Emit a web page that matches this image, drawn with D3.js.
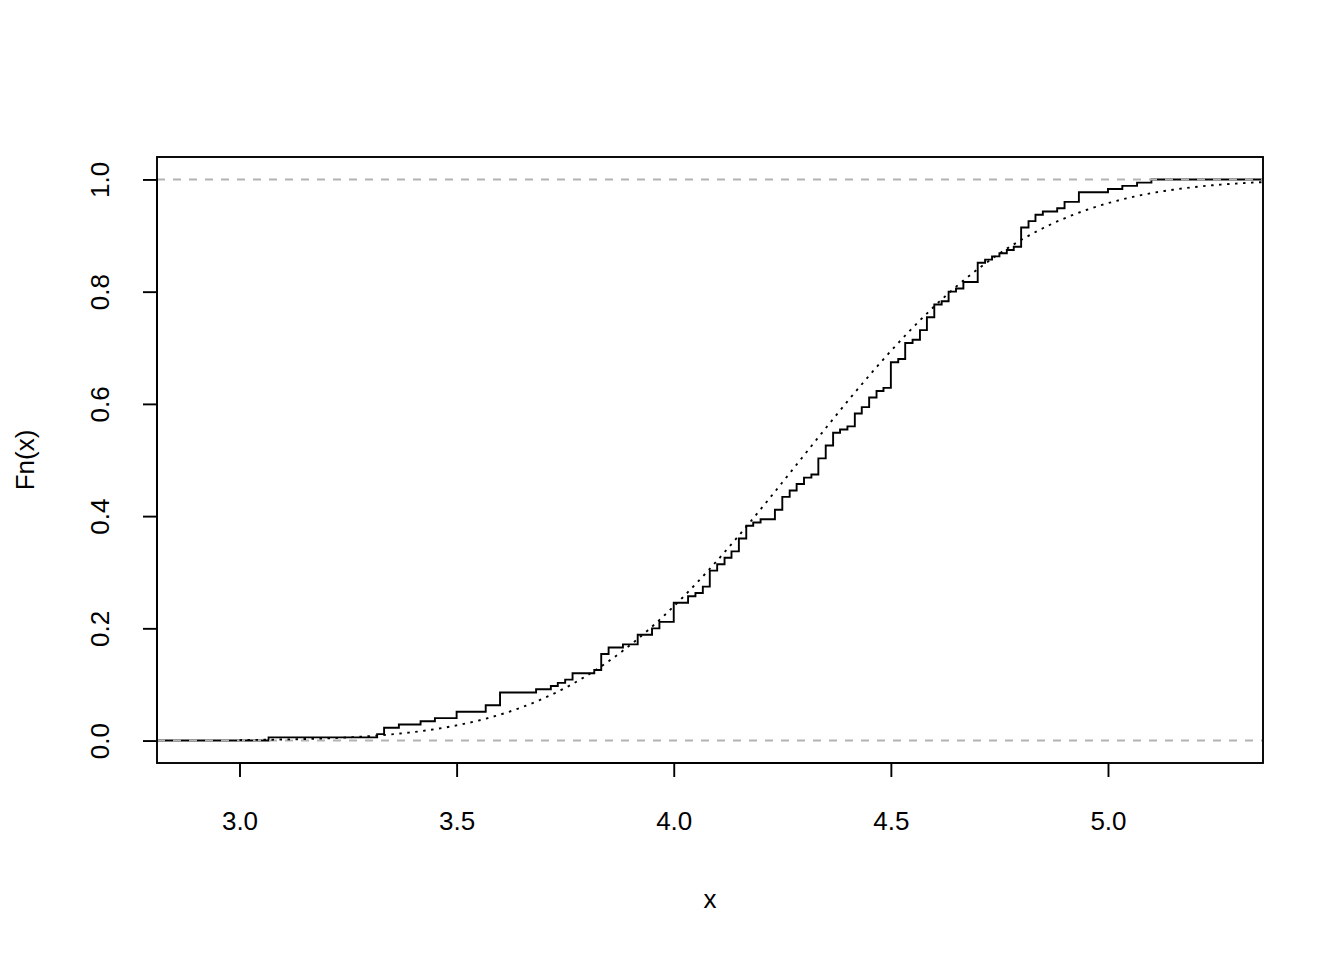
<!DOCTYPE html>
<html><head><meta charset="utf-8">
<script src="https://cdn.jsdelivr.net/npm/d3@7"></script>
<style>
body{margin:0;background:#fff}
svg{display:block}
text{font-family:"Liberation Sans",Arial,Helvetica,sans-serif;fill:#000}
</style>
</head><body>
<svg id="chart" width="1344" height="960"></svg>
<script>
// Long eruptions (> 3 min) of Old Faithful: distinct durations (minutes) and how often each occurs
const eruptionValues = [3.067,3.317,3.333,3.367,3.417,3.450,3.500,3.567,3.600,3.683,3.717,3.733,3.750,3.767,3.817,3.833,3.850,3.883,3.917,3.950,3.967,4.000,4.033,4.050,4.067,4.083,4.100,4.117,4.133,4.150,4.167,4.183,4.200,4.233,4.250,4.267,4.283,4.300,4.317,4.333,4.350,4.367,4.383,4.400,4.417,4.433,4.450,4.467,4.483,4.500,4.517,4.533,4.550,4.567,4.583,4.600,4.617,4.633,4.650,4.667,4.700,4.717,4.733,4.750,4.767,4.783,4.800,4.817,4.833,4.850,4.883,4.900,4.933,5.000,5.033,5.067,5.100];
const eruptionCounts = [1,1,2,1,1,1,2,2,4,1,1,1,1,2,1,5,2,1,3,2,2,6,2,1,2,5,2,2,2,4,4,1,1,3,4,2,2,2,1,5,4,4,1,1,4,2,3,2,1,8,1,5,1,3,4,4,1,3,1,2,6,1,1,1,1,1,6,2,2,1,1,2,3,1,1,1,1];
const xTickValues = [3.0,3.5,4.0,4.5,5.0];
const yTickValues = [0.0,0.2,0.4,0.6,0.8,1.0];
const xTitle = "x";
const yTitle = "Fn(x)";

const svg = d3.select("#chart");
const L = 157, R = 1263, T = 157, B = 763;
const LW = 1.9, FS = 26;

// sample and ECDF
const sample = [];
eruptionValues.forEach((v, i) => { for (let k = 0; k < eruptionCounts[i]; k++) sample.push(v); });
const n = sample.length;
let cum = 0;
const ecdfPts = eruptionValues.map((v, i) => { cum += eruptionCounts[i]; return [v, cum / n]; });

// axis ranges like R's plot.stepfun
const rx = d3.extent(eruptionValues);
const dr = Math.max(0.08 * (rx[1] - rx[0]), d3.median(d3.pairs(eruptionValues, (a, b) => b - a)));
const xlim = [rx[0] - dr, rx[1] + dr];
const xpad = 0.04 * (xlim[1] - xlim[0]);
const x = d3.scaleLinear().domain([xlim[0] - xpad, xlim[1] + xpad]).range([L, R]);
const y = d3.scaleLinear().domain([-0.04, 1.04]).range([B, T]);

svg.append("defs").append("clipPath").attr("id", "clip")
  .append("rect").attr("x", L).attr("y", T).attr("width", R - L).attr("height", B - T);

const g = svg.append("g").attr("clip-path", "url(#clip)");

// step function with verticals
const stepData = [[xlim[0] - dr, 0], ...ecdfPts.map(d => [d[0], d[1]]), [xlim[1] + dr, 1]];
const stepLine = d3.line().x(d => x(d[0])).y(d => y(d[1])).curve(d3.curveStepAfter);
g.append("path").attr("d", stepLine(stepData))
  .attr("fill", "none").attr("stroke", "#000").attr("stroke-width", LW);

// 0 and 1 reference lines
[0, 1].forEach(v => {
  g.append("line").attr("x1", L).attr("x2", R).attr("y1", y(v)).attr("y2", y(v))
    .attr("stroke", "#b3b3b3").attr("stroke-width", LW).attr("stroke-dasharray", "8,8");
});

// fitted normal CDF (mean and sd of the sample)
const mu = d3.mean(sample), sd = d3.deviation(sample);
function erf(z) {
  const s = Math.sign(z); z = Math.abs(z);
  const t = 1 / (1 + 0.3275911 * z);
  const yv = 1 - (((((1.061405429 * t - 1.453152027) * t) + 1.421413741) * t - 0.284496736) * t + 0.254829592) * t * Math.exp(-z * z);
  return s * yv;
}
const pnorm = v => 0.5 * (1 + erf((v - mu) / (sd * Math.SQRT2)));
const xx = d3.range(300, 541).map(i => i / 100);
g.append("path").attr("d", d3.line().x(d => x(d)).y(d => y(pnorm(d)))(xx))
  .attr("fill", "none").attr("stroke", "#000").attr("stroke-width", LW).attr("stroke-dasharray", "2.5,5.5");

// box
svg.append("rect").attr("x", L).attr("y", T).attr("width", R - L).attr("height", B - T)
  .attr("fill", "none").attr("stroke", "#000").attr("stroke-width", LW);

// axes
const xAxis = d3.axisBottom(x).tickValues(xTickValues).tickFormat(d3.format(".1f")).tickSizeOuter(0).tickSize(14).tickPadding(35);
const gx = svg.append("g").attr("transform", `translate(0,${B})`).call(xAxis);
gx.select(".domain").attr("d", `M${x(xTickValues[0])},0H${x(xTickValues[xTickValues.length-1])}`).attr("stroke-width", LW);
gx.selectAll(".tick line").attr("stroke-width", LW);
gx.selectAll("text").attr("font-size", FS).attr("font-family", "Liberation Sans, Arial, sans-serif").attr("fill", "#000");

const yAxis = d3.axisLeft(y).tickValues(yTickValues).tickFormat(d3.format(".1f")).tickSizeOuter(0).tickSize(14);
const gy = svg.append("g").attr("transform", `translate(${L},0)`).call(yAxis);
gy.select(".domain").attr("d", `M0,${y(yTickValues[0])}V${y(yTickValues[yTickValues.length-1])}`).attr("stroke-width", LW);
gy.selectAll(".tick line").attr("stroke-width", LW);
gy.selectAll("text").remove();
gy.selectAll(".tick").append("text")
  .attr("transform", "translate(-48,0) rotate(-90)")
  .attr("text-anchor", "middle").attr("font-size", FS).attr("fill", "#000")
  .text(d => d3.format(".1f")(d));

// titles
svg.append("text").attr("x", (L + R) / 2).attr("y", 908).attr("text-anchor", "middle")
  .attr("font-size", FS).text(xTitle);
svg.append("text").attr("transform", `translate(34,${(T + B) / 2}) rotate(-90)`)
  .attr("text-anchor", "middle").attr("font-size", FS).text(yTitle);
</script>
</body></html>
